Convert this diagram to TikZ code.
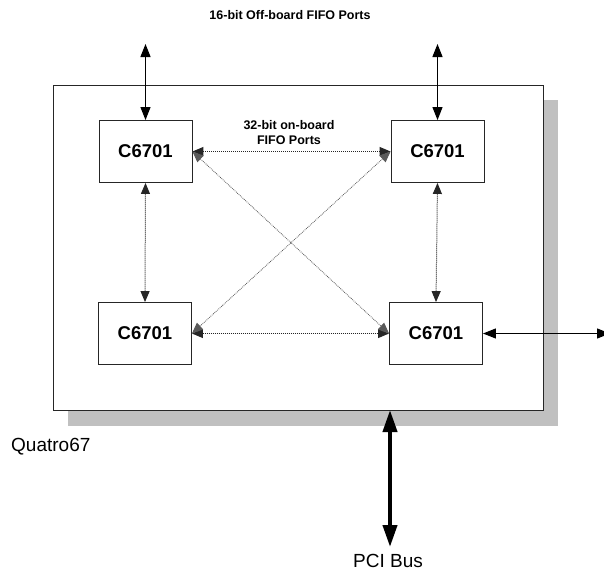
\documentclass[tikz,border=0pt]{standalone}
\usepackage{fontspec}
\setmainfont{Liberation Sans}
\usetikzlibrary{arrows.meta}
\definecolor{shadowgray}{HTML}{C0C0C0}
\begin{document}
\begin{tikzpicture}[x=1pt,y=-1pt,
  chip/.style={draw=black!85, line width=0.9pt, fill=white, minimum width=93pt,
    minimum height=62pt, inner sep=0pt, font=\fontsize{18.5}{20}\selectfont\bfseries},
  smalllabel/.style={font=\fontsize{12.5}{15}\selectfont\bfseries, align=center, inner sep=0pt},
  biglabel/.style={font=\fontsize{19}{22}\selectfont, inner sep=0pt},
  solidarrow/.style={{Triangle[length=13pt,width=10pt]}-{Triangle[length=13pt,width=10pt]}, line width=1.2pt, black},
  dotarrow/.style={{Triangle[length=11pt,width=9pt]}-{Triangle[length=11pt,width=9pt]}, line width=1pt, black!85, densely dotted},
  diagarrow/.style={{Triangle[length=11pt,width=9pt]}-{Triangle[length=11pt,width=9pt]}, line width=0.8pt, black!65, densely dotted},
  busarrow/.style={{Triangle[length=22pt,width=14pt]}-{Triangle[length=22pt,width=14pt]}, line width=4pt, black}
]
\useasboundingbox (0,0) rectangle (604,573);

% board with shadow
\fill[shadowgray] (68,100) rectangle (558,426);
\node[draw=black!85, line width=0.9pt, fill=white, minimum width=490pt, minimum height=325pt, inner sep=0pt] (board) at (298,247.5) {};

% chips
\node[chip] (tl) at (145.5,151.5) {C6701};
\node[chip] (tr) at (437.5,151.5) {C6701};
\node[chip] (bl) at (145,333.5) {C6701};
\node[chip] (br) at (436,333.5) {C6701};

% labels
\node[smalllabel] (title) at (290,15) {16-bit Off-board FIFO Ports};
\node[smalllabel] (onboard) at (289,133) {32-bit on-board\\FIFO Ports};
\node[biglabel, anchor=west] (quatro) at (11,447) {Quatro67};
\node[biglabel] (pci) at (388,561) {PCI Bus};

% off-board ports
\coordinate (tlport) at (145.5,44);
\coordinate (trport) at (437.5,44);
\coordinate (brport) at (610,333.5);
\draw[solidarrow] (tlport) -- (tl.north);
\draw[solidarrow] (trport) -- (tr.north);
\draw[solidarrow] (br.east) -- (brport);

% on-board FIFO links
\draw[dotarrow] (tl.east) -- (tr.west);
\draw[dotarrow] (bl.east) -- (br.west);
\draw[dotarrow] (tl.south) -- (bl.north);
\draw[dotarrow] (tr.south) -- (br.north);
\draw[diagarrow] (tl.east) -- (br.west);
\draw[diagarrow] (bl.east) -- (tr.west);

% PCI bus
\coordinate (pcitop) at (390,410);
\coordinate (pcibot) at (390,547);
\draw[busarrow] (pcitop) -- (pcibot);
\end{tikzpicture}
\end{document}
